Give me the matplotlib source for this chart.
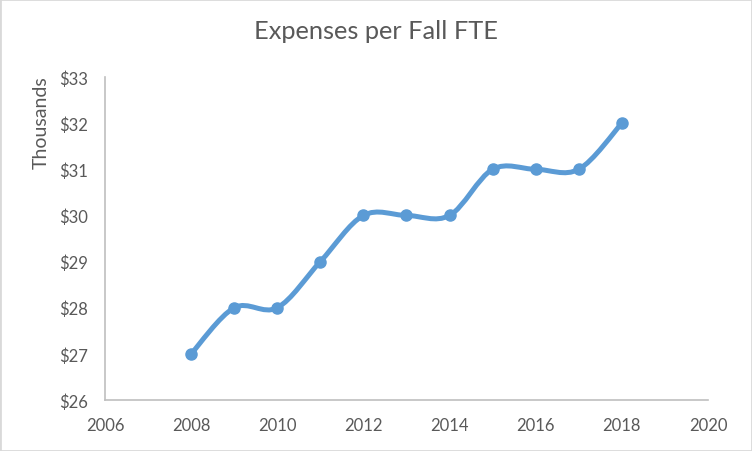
import matplotlib.pyplot as plt
from matplotlib.path import Path
from matplotlib.patches import PathPatch, Rectangle
from matplotlib.ticker import FuncFormatter

years = [2008, 2009, 2010, 2011, 2012, 2013, 2014, 2015, 2016, 2017, 2018]
expenses = [27, 28, 28, 29, 30, 30, 30, 31, 31, 31, 32]  # thousands of dollars

line_color = "#5B9BD5"
text_color = "#595959"
axis_color = "#BFBFBF"

plt.rcParams["font.family"] = ["Lato", "DejaVu Sans"]

fig = plt.figure(figsize=(7.52, 4.52), dpi=100)
ax = fig.add_axes([0.1396, 0.1128, 0.8019, 0.7146])

# excel-style smoothed line: catmull-rom segments as cubic beziers
pts = list(zip(years, expenses))
verts = [pts[0]]
codes = [Path.MOVETO]
n = len(pts)
for i in range(n - 1):
    p0 = pts[max(i - 1, 0)]
    p1 = pts[i]
    p2 = pts[i + 1]
    p3 = pts[min(i + 2, n - 1)]
    c1 = (p1[0] + (p2[0] - p0[0]) / 6, p1[1] + (p2[1] - p0[1]) / 6)
    c2 = (p2[0] - (p3[0] - p1[0]) / 6, p2[1] - (p3[1] - p1[1]) / 6)
    verts += [c1, c2, p2]
    codes += [Path.CURVE4] * 3
ax.add_patch(PathPatch(Path(verts, codes), facecolor="none", edgecolor=line_color,
                       lw=3.6, capstyle="round", joinstyle="round", zorder=3))
ax.plot(years, expenses, "o", color=line_color, ms=8, zorder=4)

ax.set_xlim(2006, 2020)
ax.set_ylim(26, 33)
ax.set_xticks(range(2006, 2021, 2))
ax.set_yticks(range(26, 34))
ax.yaxis.set_major_formatter(FuncFormatter(lambda v, p: f"${v:.0f}"))

for side in ["top", "right"]:
    ax.spines[side].set_visible(False)
for side in ["left", "bottom"]:
    ax.spines[side].set_color(axis_color)
    ax.spines[side].set_linewidth(1.2)
ax.tick_params(length=0, colors=text_color, labelsize=12, pad=12)

ax.set_ylabel("Thousands", color=text_color, fontsize=14)
ax.yaxis.set_label_coords(-0.092, 0.862)
fig.suptitle("Expenses per Fall FTE", color=text_color, fontsize=18.3, y=0.955)

fig.patches.append(Rectangle((0, 0), 1, 1, transform=fig.transFigure, fill=False,
                             edgecolor="#D9D9D9", lw=2))

fig.savefig("out.png", dpi=100)
